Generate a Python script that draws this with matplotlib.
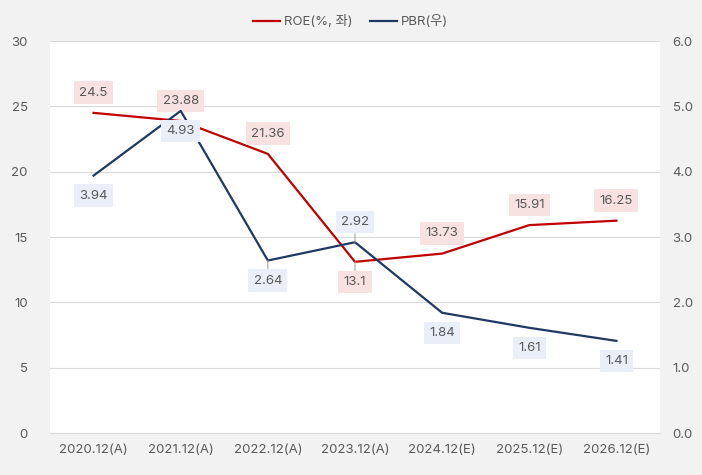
import matplotlib.pyplot as plt

plt.rcParams['font.family'] = ['Inter', 'Noto Sans CJK KR', 'DejaVu Sans']

years = ['2020.12(A)', '2021.12(A)', '2022.12(A)', '2023.12(A)',
         '2024.12(E)', '2025.12(E)', '2026.12(E)']
roe = [24.5, 23.88, 21.36, 13.1, 13.73, 15.91, 16.25]
pbr = [3.94, 4.93, 2.64, 2.92, 1.84, 1.61, 1.41]
roe_lbl = ['24.5', '23.88', '21.36', '13.1', '13.73', '15.91', '16.25']
pbr_lbl = ['3.94', '4.93', '2.64', '2.92', '1.84', '1.61', '1.41']
# label direction: +1 above, -1 below
roe_dir = [1, 1, 1, -1, 1, 1, 1]
pbr_dir = [-1, -1, -1, 1, -1, -1, -1]

red = '#c00000'
navy = '#203864'
txt = '#595959'

fig = plt.figure(figsize=(7.02, 4.75), dpi=100)
fig.patch.set_facecolor('#f2f2f2')
ax1 = fig.add_axes([50 / 702, 42 / 475, 610 / 702, 392 / 475])
ax2 = ax1.twinx()
ax1.set_facecolor('white')

x = list(range(len(years)))
l1, = ax1.plot(x, roe, color=red, lw=1.6, label='ROE(%, 좌)')
l2, = ax2.plot(x, pbr, color=navy, lw=1.6, label='PBR(우)')

ax1.set_xlim(-0.5, len(years) - 0.5)
ax1.set_ylim(0, 30)
ax2.set_ylim(0, 6)
ax1.set_yticks(range(0, 31, 5))
ax2.set_yticks([0, 1, 2, 3, 4, 5, 6])
ax2.set_yticklabels(['%.1f' % v for v in range(7)])
ax1.set_xticks(x)
ax1.set_xticklabels(years)
ax1.grid(axis='y', color='#d9d9d9', lw=0.8)
ax1.set_axisbelow(True)

for a in (ax1, ax2):
    for s in a.spines.values():
        s.set_visible(False)
    a.tick_params(length=0, labelsize=9.5, colors=txt)
ax1.spines['bottom'].set_visible(True)
ax1.spines['bottom'].set_color('#d9d9d9')
ax1.tick_params(axis='y', pad=16)
ax2.tick_params(axis='y', pad=9)
ax1.tick_params(axis='x', pad=8)

for i in x:
    off = 14.5 * roe_dir[i]
    ax1.annotate(roe_lbl[i], (i, roe[i]), xytext=(0, off), textcoords='offset points',
                 ha='center', va='center', fontsize=9.5, color=txt,
                 bbox=dict(boxstyle='square,pad=0.4', fc='#f8e1e1', ec='none'),
                 arrowprops=dict(arrowstyle='-', color='#a6a6a6', lw=0.8,
                                 shrinkA=0, shrinkB=0) if i == 3 else None)
    off = 14.5 * pbr_dir[i]
    ax2.annotate(pbr_lbl[i], (i, pbr[i]), xytext=(0, off), textcoords='offset points',
                 ha='center', va='center', fontsize=9.5, color=txt,
                 bbox=dict(boxstyle='square,pad=0.4', fc='#e9eef8', ec='none'),
                 arrowprops=dict(arrowstyle='-', color='#a6a6a6', lw=0.8,
                                 shrinkA=0, shrinkB=0) if i in (2, 3) else None)

fig.legend(handles=[l1, l2], loc='upper center', bbox_to_anchor=(0.5, 0.993),
           ncol=2, frameon=False, fontsize=9.5, labelcolor=txt,
           handlelength=2.0, handletextpad=0.35, columnspacing=1.3)

fig.savefig('out.png', dpi=100, facecolor=fig.get_facecolor())
